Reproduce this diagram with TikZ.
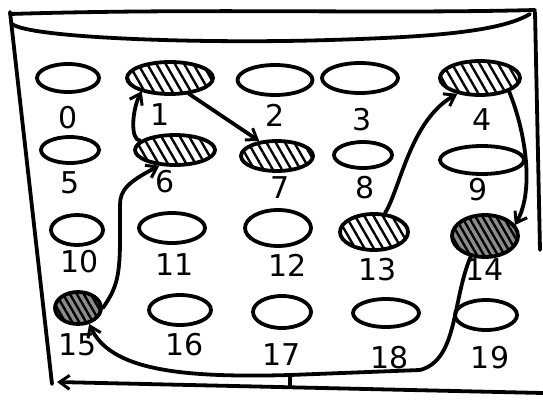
\documentclass[tikz,border=0pt]{standalone}
\usepackage{fontspec}
\setsansfont{DejaVu Sans}
\usetikzlibrary{shapes.geometric,patterns.meta,arrows.meta}
\begin{document}
\begin{tikzpicture}[x=1pt,y=-1pt,
  ink/.style={line width=3.8pt, line cap=round, line join=round},
  cell/.style={ellipse, draw, ink, inner sep=0pt},
  hot/.style={pattern={Lines[angle=-60,distance=8pt,line width=2.4pt]}},
  dark/.style={preaction={fill=black!45}, pattern={Lines[angle=-60,distance=6pt,line width=2.4pt]}},
  lab/.style={font=\fontsize{30}{34}\selectfont\sffamily, inner sep=0pt},
  arr/.style={ink, -{Straight Barb[length=10pt,width=14pt,line width=3pt]}}]
\useasboundingbox (0,0) rectangle (543,401);
% frame
\draw[ink] (10,14) .. controls (200,8) and (380,14) .. (535,10);
\draw[ink] (12,24) .. controls (30,38) and (200,44) .. (330,40) .. controls (430,37) and (500,32) .. (530,14);
\draw[ink] (10,12) -- (52,384);
\draw[ink] (535,12) -- (540,250);
\coordinate (bl) at (57,382);
\coordinate (br) at (543,393);
\draw[arr] (br) -- (bl);
% cells row 0
\node[cell, minimum width=62pt, minimum height=28pt] (e0) at (68,78) {};
\node[cell, hot, minimum width=86pt, minimum height=32pt] (e1) at (170,78) {};
\node[cell, minimum width=75pt, minimum height=30pt] (e2) at (275,80) {};
\node[cell, minimum width=76pt, minimum height=30pt] (e3) at (360,78) {};
\node[cell, hot, minimum width=80pt, minimum height=34pt] (e4) at (480,78) {};
% row 1
\node[cell, minimum width=58pt, minimum height=26pt] (e5) at (70,150) {};
\node[cell, hot, minimum width=80pt, minimum height=30pt] (e6) at (175,150) {};
\node[cell, hot, minimum width=72pt, minimum height=30pt] (e7) at (277,156) {};
\node[cell, minimum width=58pt, minimum height=26pt] (e8) at (363,155) {};
\node[cell, minimum width=84pt, minimum height=28pt] (e9) at (482,160) {};
% row 2
\node[cell, minimum width=52pt, minimum height=30pt] (e10) at (77,230) {};
\node[cell, minimum width=66pt, minimum height=30pt] (e11) at (172,228) {};
\node[cell, minimum width=66pt, minimum height=36pt] (e12) at (278,228) {};
\node[cell, hot, minimum width=68pt, minimum height=36pt] (e13) at (374,232) {};
\node[cell, dark, minimum width=66pt, minimum height=42pt] (e14) at (485,236) {};
% row 3
\node[cell, dark, minimum width=46pt, minimum height=32pt] (e15) at (78,308) {};
\node[cell, minimum width=62pt, minimum height=30pt] (e16) at (180,310) {};
\node[cell, minimum width=58pt, minimum height=32pt] (e17) at (282,312) {};
\node[cell, minimum width=66pt, minimum height=28pt] (e18) at (386,313) {};
\node[cell, minimum width=62pt, minimum height=30pt] (e19) at (486,315) {};
% labels
\node[lab] (l0) at (68,118) {0};
\node[lab] (l1) at (160,115) {1};
\node[lab] (l2) at (275,115) {2};
\node[lab] (l3) at (362,120) {3};
\node[lab] (l4) at (482,120) {4};
\node[lab] (l5) at (70,183) {5};
\node[lab] (l6) at (165,182) {6};
\node[lab] (l7) at (280,188) {7};
\node[lab] (l8) at (365,188) {8};
\node[lab] (l9) at (478,190) {9};
\node[lab] (l10) at (80,262) {10};
\node[lab] (l11) at (175,265) {11};
\node[lab] (l12) at (288,265) {12};
\node[lab] (l13) at (378,270) {13};
\node[lab] (l14) at (485,270) {14};
\node[lab] (l15) at (78,345) {15};
\node[lab] (l16) at (185,345) {16};
\node[lab] (l17) at (282,355) {17};
\node[lab] (l18) at (390,358) {18};
\node[lab] (l19) at (490,358) {19};
% connectors
\draw[arr] (e15.east) .. controls (115,290) and (120,280) .. (120,240) -- (120,205) .. controls (120,190) and (128,182) .. (e6.225);
\draw[arr] (e6.165) .. controls (130,140) and (132,110) .. (e1.205);
\draw[arr] (e1.-40) -- (e7.140);
\draw[arr] (e13.60) .. controls (400,190) and (410,120) .. (e4.215);
\draw[arr] (e4.-25) .. controls (525,130) and (535,190) .. (e14.20);
\coordinate (tk) at (290,375);
\draw[arr] (e14.235) .. controls (452,300) and (458,360) .. (420,370) -- (tk) .. controls (180,378) and (110,370) .. (e15.-55);
\draw[ink] (tk) -- (290,386);
\end{tikzpicture}
\end{document}
